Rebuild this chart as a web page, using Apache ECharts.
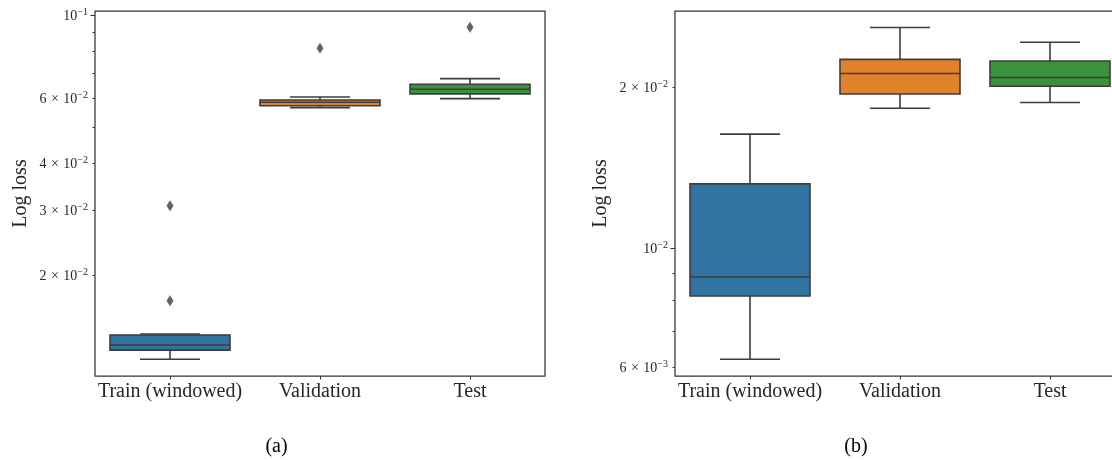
<!DOCTYPE html>
<html>
<head>
<meta charset="utf-8">
<script src="https://cdn.jsdelivr.net/npm/echarts@6/dist/echarts.min.js"></script>
<style>
html,body{margin:0;padding:0;background:#fff;}
#c{width:1112px;height:460px;}
</style>
</head>
<body>
<div id="c"></div>
<script>
// ---------- data ----------
const categories = ['Train (windowed)', 'Validation', 'Test'];
// each row: [min whisker, Q1, median, Q3, max whisker]
const boxA = [
  [0.01192, 0.01262, 0.01302, 0.01385, 0.01394],
  [0.05657, 0.05727, 0.05851, 0.05934, 0.06046],
  [0.05981, 0.06160, 0.06341, 0.06539, 0.06770]
];
// [category index, value]
const outliersA = [[0, 0.03084], [0, 0.01713], [1, 0.08174], [2, 0.09307]];
const boxB = [
  [0.006208, 0.008147, 0.008843, 0.01320, 0.01635],
  [0.01827, 0.01943, 0.02121, 0.02255, 0.02585],
  [0.01873, 0.02009, 0.02085, 0.02239, 0.02427]
];
const outliersB = [];
// y-axis ranges
const rangeA = [0.01075, 0.1029];
const rangeB = [0.005776, 0.02776];
// tick values
const labelTicksA = [0.02, 0.03, 0.04, 0.06, 0.1];
const minorTicksA = [0.02, 0.03, 0.04, 0.05, 0.06, 0.07, 0.08, 0.09];
const majorTicksA = [0.1];
const labelTicksB = [0.006, 0.01, 0.02];
const minorTicksB = [0.006, 0.007, 0.008, 0.009, 0.02];
const majorTicksB = [0.01];
const boxColors = ['#3274A1', '#E1812C', '#3A923A'];

// ---------- styling ----------
const FONT = 'Liberation Serif';
const EDGE = '#3d3d3d';
const TXT = '#262626';

function sciLabel(v) {
  const e = Math.floor(Math.log10(v) + 1e-9);
  const m = Math.round(v / Math.pow(10, e));
  const exp = '\u2212' + Math.abs(e);
  return (m === 1 ? '{b|10}' : '{b|' + m + '}{x|\u00d7}{b|10}') + '{s|' + exp + '}';
}
const labelRich = {
  b: {fontSize: 14, fontFamily: FONT, color: TXT, lineHeight: 16, verticalAlign: 'bottom'},
  x: {fontSize: 14, fontFamily: FONT, color: TXT, lineHeight: 16, verticalAlign: 'bottom', padding: [0, 4.5, 0, 4.5]},
  s: {fontSize: 10, fontFamily: FONT, color: TXT, lineHeight: 11, verticalAlign: 'top'}
};

function renderBox(params, api) {
  const i = api.value(0);
  const vmin = api.value(1), q1 = api.value(2), med = api.value(3), q3 = api.value(4), vmax = api.value(5);
  const cx = api.coord([i, med])[0];
  const band = api.coord([1, med])[0] - api.coord([0, med])[0];
  const bw = band * 0.8;
  const cap = bw / 2;
  const yMin = api.coord([i, vmin])[1];
  const yQ1 = api.coord([i, q1])[1];
  const yMed = api.coord([i, med])[1];
  const yQ3 = api.coord([i, q3])[1];
  const yMax = api.coord([i, vmax])[1];
  const ls = {stroke: EDGE, lineWidth: 1.6};
  return {
    type: 'group',
    children: [
      {type: 'line', shape: {x1: cx, y1: yQ3, x2: cx, y2: yMax}, style: ls},
      {type: 'line', shape: {x1: cx, y1: yQ1, x2: cx, y2: yMin}, style: ls},
      {type: 'line', shape: {x1: cx - cap / 2, y1: yMax, x2: cx + cap / 2, y2: yMax}, style: ls},
      {type: 'line', shape: {x1: cx - cap / 2, y1: yMin, x2: cx + cap / 2, y2: yMin}, style: ls},
      {type: 'rect', shape: {x: cx - bw / 2, y: yQ3, width: bw, height: yQ1 - yQ3},
        style: {fill: boxColors[i], stroke: EDGE, lineWidth: 1.6}},
      {type: 'line', shape: {x1: cx - bw / 2, y1: yMed, x2: cx + bw / 2, y2: yMed}, style: ls}
    ]
  };
}

function makeX(gi) {
  return {
    type: 'category', gridIndex: gi, data: categories, boundaryGap: true,
    axisLine: {show: false},
    axisTick: {show: true, alignWithLabel: true, length: 3.5, lineStyle: {color: '#333', width: 1}},
    axisLabel: {fontSize: 20, fontFamily: FONT, color: TXT, margin: 6, interval: 0, hideOverlap: false},
    splitLine: {show: false}
  };
}
function makeYMain(gi, range, labels, minors) {
  return {
    type: 'log', logBase: 10, gridIndex: gi, position: 'left',
    min: range[0], max: range[1],
    name: 'Log loss', nameLocation: 'middle', nameRotate: 90, nameGap: 64,
    nameTextStyle: {fontSize: 20, fontFamily: FONT, color: TXT},
    axisLine: {show: false},
    axisTick: {show: true, length: 2.5, customValues: minors, lineStyle: {color: '#333', width: 1}},
    axisLabel: {show: true, customValues: labels, margin: 7, formatter: sciLabel, rich: labelRich, hideOverlap: false},
    splitLine: {show: false}, minorTick: {show: false}
  };
}
function makeYMajor(gi, range, majors) {
  return {
    type: 'log', logBase: 10, gridIndex: gi, position: 'left',
    min: range[0], max: range[1],
    axisLine: {show: false},
    axisTick: {show: true, length: 4.5, customValues: majors, lineStyle: {color: '#333', width: 1}},
    axisLabel: {show: false},
    splitLine: {show: false}
  };
}

const gridBase = {top: 11, width: 450, height: 365, show: true, borderColor: '#333', borderWidth: 1.25,
  backgroundColor: 'transparent', containLabel: false, outerBoundsMode: 'none'};

const chart = echarts.init(document.getElementById('c'), null, {renderer: 'canvas'});
chart.setOption({
  animation: false,
  backgroundColor: '#fff',
  grid: [
    Object.assign({left: 95}, gridBase),
    Object.assign({left: 675}, gridBase)
  ],
  xAxis: [makeX(0), makeX(1)],
  yAxis: [
    makeYMain(0, rangeA, labelTicksA, minorTicksA),
    makeYMajor(0, rangeA, majorTicksA),
    makeYMain(1, rangeB, labelTicksB, minorTicksB),
    makeYMajor(1, rangeB, majorTicksB)
  ],
  series: [
    {type: 'custom', xAxisIndex: 0, yAxisIndex: 0, renderItem: renderBox,
      encode: {x: 0, y: [1, 2, 3, 4, 5]}, data: boxA.map((d, i) => [i].concat(d)), silent: true},
    {type: 'scatter', xAxisIndex: 0, yAxisIndex: 0, data: outliersA, symbol: 'diamond',
      symbolSize: [7, 11], itemStyle: {color: EDGE}, silent: true},
    {type: 'custom', xAxisIndex: 1, yAxisIndex: 2, renderItem: renderBox,
      encode: {x: 0, y: [1, 2, 3, 4, 5]}, data: boxB.map((d, i) => [i].concat(d)), silent: true},
    {type: 'scatter', xAxisIndex: 1, yAxisIndex: 2, data: outliersB, symbol: 'diamond',
      symbolSize: [7, 11], itemStyle: {color: EDGE}, silent: true}
  ],
  graphic: [
    {type: 'text', x: 276.5, y: 447, style: {text: '(a)', align: 'center', verticalAlign: 'middle', font: '20px "Liberation Serif"', fill: '#000'}},
    {type: 'text', x: 856, y: 447, style: {text: '(b)', align: 'center', verticalAlign: 'middle', font: '20px "Liberation Serif"', fill: '#000'}}
  ]
});
</script>
</body>
</html>
